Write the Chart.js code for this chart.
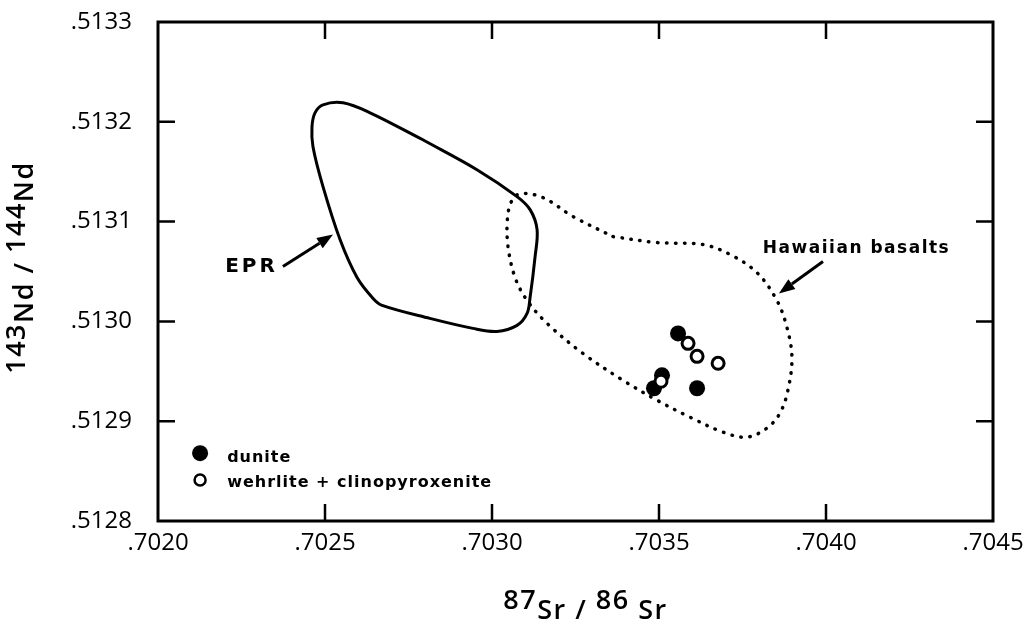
<!DOCTYPE html>
<html><head><meta charset="utf-8">
<script src="https://cdn.jsdelivr.net/npm/chart.js@4.4.0/dist/chart.umd.min.js"></script>
<style>html,body{margin:0;padding:0;background:#fff}#wrap{width:1036px;height:623px;position:relative}</style>
</head><body><div id="wrap"><canvas id="c" width="1036" height="623"></canvas></div>
<script>
// ---- data ----
const xTicks = [0.7020, 0.7025, 0.7030, 0.7035, 0.7040, 0.7045];
const yTicks = [0.5128, 0.5129, 0.5130, 0.5131, 0.5132, 0.5133];

const duniteX = [0.703557, 0.703509, 0.703485, 0.703614];
const duniteY = [0.512988, 0.512946, 0.512933, 0.512933];

const wehrliteX = [0.703587, 0.703614, 0.703677, 0.703506];
const wehrliteY = [0.512978, 0.512965, 0.512958, 0.512940];

const eprX = [0.702793,0.702955,0.703075,0.703114,0.703135,0.703129,0.703114,0.703105,0.703075,0.703015,0.702943,0.702814,0.702671,0.702644,0.702596,0.702545,0.702494,0.702464,0.702461,0.702470,0.702494,0.702554,0.702635,0.702793];
const eprY = [0.513182,0.513152,0.513125,0.513112,0.513092,0.513065,0.513024,0.513008,0.512996,0.512990,0.512993,0.513003,0.513016,0.513023,0.513044,0.513082,0.513135,0.513175,0.513195,0.513209,0.513217,0.513219,0.513209,0.513182];

const hawX = [0.703362,0.703494,0.703632,0.703713,0.703793,0.703853,0.703883,0.703898,0.703886,0.703862,0.703823,0.703763,0.703692,0.703593,0.703494,0.703392,0.703272,0.703165,0.703105,0.703069,0.703048,0.703046,0.703058,0.703085,0.703153,0.703243,0.703362];
const hawY = [0.513085,0.513079,0.513077,0.513067,0.513049,0.513021,0.512994,0.512964,0.512931,0.512908,0.512893,0.512884,0.512889,0.512904,0.512921,0.512941,0.512968,0.512998,0.513021,0.513044,0.513075,0.513102,0.513120,0.513128,0.513124,0.513105,0.513085];

// annotations (data coordinates)
const eprLabel = {text: 'EPR', x: 0.702201, y: 0.513049};
const eprArrow = {x0: 0.702374, y0: 0.513055, x1: 0.702524, y1: 0.513087};
const hawLabel = {text: 'Hawaiian basalts', x: 0.703811, y: 0.513069};
const hawArrow = {x0: 0.703991, y0: 0.513060, x1: 0.703859, y1: 0.513028};
const legendItems = [
  {text: 'dunite', mx: 0.702126, my: 0.512868, tx: 0.702207, ty: 0.512859, filled: true},
  {text: 'wehrlite + clinopyroxenite', mx: 0.702126, my: 0.512841, tx: 0.702207, ty: 0.512834, filled: false}
];

const zip = (xs, ys) => xs.map((x, i) => ({x: x, y: ys[i]}));
const fmt = v => Number(v).toFixed(4).replace(/^0/, '');

const decor = {
  id: 'decor',
  beforeDatasetsDraw(chart) {
    const {ctx, chartArea: a, scales: {x, y}} = chart;
    ctx.save();
    ctx.strokeStyle = '#000';
    ctx.lineWidth = 3;
    ctx.strokeRect(a.left, a.top, a.right - a.left, a.bottom - a.top);
    ctx.lineWidth = 2.5;
    const L = 17;
    ctx.beginPath();
    xTicks.slice(1, -1).forEach(v => {
      const px = x.getPixelForValue(v);
      ctx.moveTo(px, a.bottom); ctx.lineTo(px, a.bottom - L);
      ctx.moveTo(px, a.top); ctx.lineTo(px, a.top + L);
    });
    yTicks.slice(1, -1).forEach(v => {
      const py = y.getPixelForValue(v);
      ctx.moveTo(a.left, py); ctx.lineTo(a.left + L, py);
      ctx.moveTo(a.right, py); ctx.lineTo(a.right - L, py);
    });
    ctx.stroke();
    ctx.restore();
  },
  afterDatasetsDraw(chart) {
    const {ctx, chartArea: a, scales: {x, y}} = chart;
    ctx.save();
    ctx.fillStyle = '#000';
    ctx.strokeStyle = '#000';
    const arrow = (ar) => {
      const x0 = x.getPixelForValue(ar.x0), y0 = y.getPixelForValue(ar.y0);
      const x1 = x.getPixelForValue(ar.x1), y1 = y.getPixelForValue(ar.y1);
      const ang = Math.atan2(y1 - y0, x1 - x0);
      const hl = 16, hw = 6;
      const bx = x1 - hl * Math.cos(ang), by = y1 - hl * Math.sin(ang);
      ctx.lineWidth = 3;
      ctx.beginPath(); ctx.moveTo(x0, y0); ctx.lineTo(bx, by); ctx.stroke();
      ctx.beginPath();
      ctx.moveTo(x1, y1);
      ctx.lineTo(bx + hw * Math.sin(ang), by - hw * Math.cos(ang));
      ctx.lineTo(bx - hw * Math.sin(ang), by + hw * Math.cos(ang));
      ctx.closePath(); ctx.fill();
    };
    arrow(eprArrow); arrow(hawArrow);
    ctx.textBaseline = 'alphabetic';
    ctx.textAlign = 'left';
    ctx.font = 'bold 20px "DejaVu Sans"';
    ctx.letterSpacing = '3px';
    ctx.fillText(eprLabel.text, x.getPixelForValue(eprLabel.x), y.getPixelForValue(eprLabel.y));
    ctx.font = 'bold 17px "DejaVu Sans"';
    ctx.letterSpacing = '1.5px';
    ctx.fillText(hawLabel.text, x.getPixelForValue(hawLabel.x), y.getPixelForValue(hawLabel.y));
    legendItems.forEach(it => {
      const mx = x.getPixelForValue(it.mx), my = y.getPixelForValue(it.my);
      ctx.beginPath();
      if (it.filled) { ctx.arc(mx, my, 8, 0, Math.PI * 2); ctx.fill(); }
      else { ctx.lineWidth = 2.5; ctx.arc(mx, my, 5.5, 0, Math.PI * 2); ctx.stroke(); }
      ctx.font = 'bold 16px "DejaVu Sans"';
      ctx.letterSpacing = '1px';
      ctx.fillText(it.text, x.getPixelForValue(it.tx), y.getPixelForValue(it.ty));
    });
    // axis titles with raised mass numbers
    const drawPieces = (pieces, cx, baseY, supOff) => {
      ctx.font = '600 27px "Open Sans"';
      ctx.letterSpacing = '1.5px';
      let w = 0;
      pieces.forEach(p => w += ctx.measureText(p.t).width);
      let px = cx - w / 2;
      pieces.forEach(p => {
        ctx.fillText(p.t, px, p.sup ? baseY - supOff : baseY);
        px += ctx.measureText(p.t).width;
      });
    };
    const cx = (a.left + a.right) / 2 + 10;
    drawPieces([{t: '87', sup: true}, {t: 'Sr'}, {t: ' / '}, {t: '86', sup: true}, {t: ' Sr'}], cx, 619, 10);
    ctx.save();
    ctx.translate(33, (a.top + a.bottom) / 2 - 4);
    ctx.rotate(-Math.PI / 2);
    drawPieces([{t: '143', sup: true}, {t: 'Nd'}, {t: ' / '}, {t: '144', sup: true}, {t: 'Nd'}], 0, 0, 8);
    ctx.restore();
    ctx.letterSpacing = '0px';
    ctx.restore();
  }
};

new Chart(document.getElementById('c'), {
  type: 'scatter',
  data: {
    datasets: [
      {label: 'wehrlite + clinopyroxenite', data: zip(wehrliteX, wehrliteY), order: 0,
       pointRadius: 6, pointBackgroundColor: '#fff', pointBorderColor: '#000', pointBorderWidth: 3, showLine: false},
      {label: 'dunite', data: zip(duniteX, duniteY), order: 1,
       pointRadius: 8, pointBackgroundColor: '#000', pointBorderColor: '#000', pointBorderWidth: 0, showLine: false},
      {label: 'EPR', data: zip(eprX, eprY), order: 2, showLine: true, pointRadius: 0,
       borderColor: '#000', borderWidth: 3, tension: 0.35, fill: false},
      {label: 'Hawaiian basalts', data: zip(hawX, hawY), order: 3, showLine: true, pointRadius: 0,
       borderColor: '#000', borderWidth: 3.5, borderDash: [0.5, 8.5], borderCapStyle: 'round', tension: 0.35, fill: false}
    ]
  },
  options: {
    responsive: false,
    devicePixelRatio: 1,
    animation: false,
    layout: {padding: {left: 0, top: 22, right: 43, bottom: 0}},
    plugins: {legend: {display: false}, tooltip: {enabled: false}},
    scales: {
      x: {
        type: 'linear', min: 0.7020, max: 0.7045,
        afterBuildTicks: s => { s.ticks = xTicks.map(v => ({value: v})); },
        afterFit: s => { s.height = 102; s.paddingLeft = 0; s.paddingRight = 0; },
        ticks: {callback: v => fmt(v), font: {family: 'Open Sans', size: 24}, color: '#000', padding: 8, maxRotation: 0, autoSkip: false},
        grid: {display: false, drawTicks: false},
        border: {display: false}
      },
      y: {
        type: 'linear', min: 0.5128, max: 0.5133,
        afterBuildTicks: s => { s.ticks = yTicks.map(v => ({value: v})); },
        afterFit: s => { s.width = 158; s.paddingTop = 0; s.paddingBottom = 0; },
        ticks: {callback: v => fmt(v), font: {family: 'Open Sans', size: 24}, color: '#000', padding: 26, autoSkip: false},
        grid: {display: false, drawTicks: false},
        border: {display: false}
      }
    }
  },
  plugins: [decor]
});
</script>
</body></html>
